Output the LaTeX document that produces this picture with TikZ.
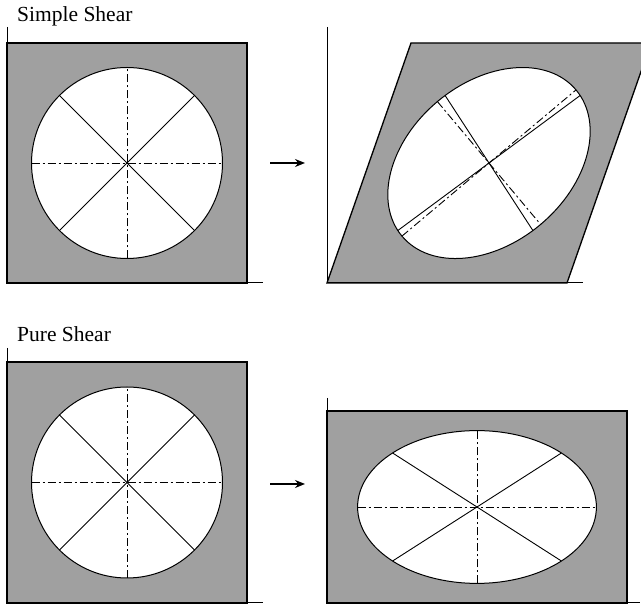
\documentclass[tikz,border=0pt]{standalone}
\usepackage{fontspec}
\setmainfont{Liberation Serif}
\usetikzlibrary{arrows.meta,calc}
\definecolor{shade}{RGB}{160,160,160}
\tikzset{
  frame/.style={fill=shade, draw=black, line width=1.3pt, line join=miter},
  axis/.style={draw=black, line width=1pt},
  hole/.style={fill=white, draw=black, line width=1pt},
  diag/.style={draw=black, line width=0.9pt},
  princ/.style={draw=black, line width=0.9pt, dash pattern=on 8pt off 3pt on 2pt off 3pt},
  label/.style={font=\fontsize{21.5}{26}\selectfont, anchor=base west, inner sep=0pt},
  shift arrow/.style={line width=1.5pt, -{Stealth[length=10pt,width=8pt]}}
}
\begin{document}
\begin{tikzpicture}[x=1pt,y=1pt]
\useasboundingbox (0,0) rectangle (641,605);
\clip (0,0) rectangle (641,605);

% ---------- Simple shear: before ----------
\node[label] (t1) at (17,583) {Simple Shear};
\coordinate (c1) at (127,442);
\path[frame] (7,322) rectangle (247,562);
\draw[axis] (7,578) -- (7,322) -- (263,322);
\path[hole] (c1) circle [radius=95.5];
\draw[diag] ($(c1)+(-67.53,-67.53)$) -- ($(c1)+(67.53,67.53)$);
\draw[diag] ($(c1)+(-67.53,67.53)$) -- ($(c1)+(67.53,-67.53)$);
\draw[princ] ($(c1)+(-95.5,0)$) -- ($(c1)+(95.5,0)$);
\draw[princ] ($(c1)+(0,-95.5)$) -- ($(c1)+(0,95.5)$);

% arrow
\coordinate (a1s) at (270,442);
\coordinate (a1e) at (305,442);
\draw[shift arrow] (a1s) -- (a1e);

% ---------- Simple shear: after ----------
\coordinate (c2) at (489,442);
\path[frame] (327,322) -- (567,322) -- (651,562) -- (411,562) -- cycle;
\draw[axis] (327,578) -- (327,322) -- (583,322);
\path[hole, rotate around={40.04:(c2)}] (c2) ellipse [x radius=113.67, y radius=80.24];
\draw[diag] ($(c2)+(-91.17,-67.53)$) -- ($(c2)+(91.17,67.53)$);
\draw[diag] ($(c2)+(-43.89,67.53)$) -- ($(c2)+(43.89,-67.53)$);
\draw[princ] ($(c2)+(-87.03,-73.11)$) -- ($(c2)+(87.03,73.11)$);
\draw[princ] ($(c2)+(-51.61,61.43)$) -- ($(c2)+(51.61,-61.43)$);

% ---------- Pure shear: before ----------
\node[label] (t2) at (17,263) {Pure Shear};
\coordinate (c3) at (127,122.5);
\path[frame] (7,2) rectangle (247,243);
\draw[axis] (7,257) -- (7,2) -- (263,2);
\path[hole] (c3) circle [radius=95.5];
\draw[diag] ($(c3)+(-67.53,-67.53)$) -- ($(c3)+(67.53,67.53)$);
\draw[diag] ($(c3)+(-67.53,67.53)$) -- ($(c3)+(67.53,-67.53)$);
\draw[princ] ($(c3)+(-95.5,0)$) -- ($(c3)+(95.5,0)$);
\draw[princ] ($(c3)+(0,-95.5)$) -- ($(c3)+(0,95.5)$);

% arrow
\coordinate (a2s) at (270,121);
\coordinate (a2e) at (305,121);
\draw[shift arrow] (a2s) -- (a2e);

% ---------- Pure shear: after ----------
\coordinate (c4) at (477,98);
\path[frame] (327,2) rectangle (627,194);
\draw[axis] (327,207) -- (327,2) -- (640,2);
\path[hole] (c4) ellipse [x radius=119.4, y radius=76.4];
\draw[diag] ($(c4)+(-84.4,-54.0)$) -- ($(c4)+(84.4,54.0)$);
\draw[diag] ($(c4)+(-84.4,54.0)$) -- ($(c4)+(84.4,-54.0)$);
\draw[princ] ($(c4)+(-119.4,0)$) -- ($(c4)+(119.4,0)$);
\draw[princ] ($(c4)+(0,-76.4)$) -- ($(c4)+(0,76.4)$);
\end{tikzpicture}
\end{document}
